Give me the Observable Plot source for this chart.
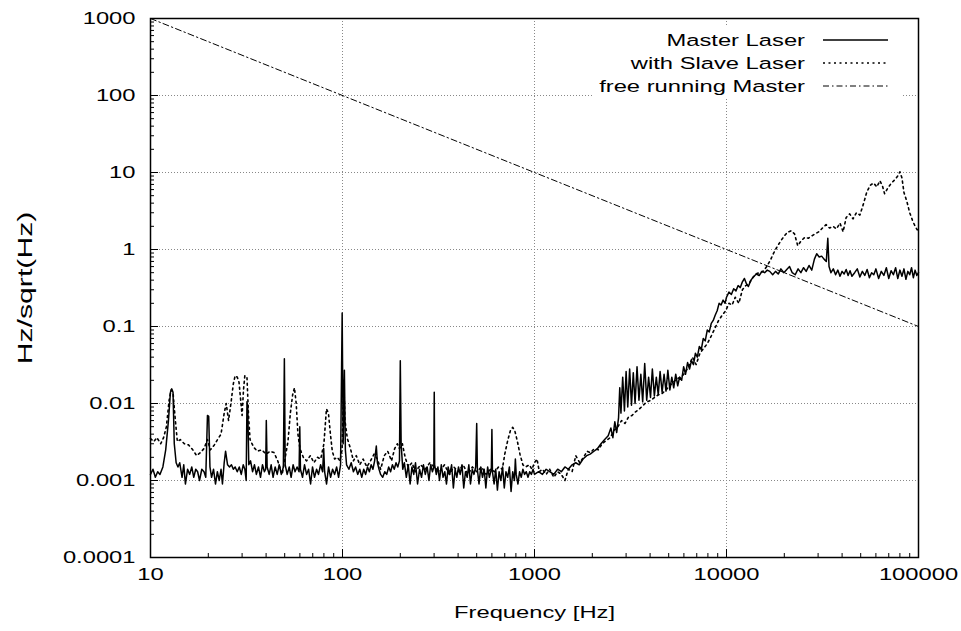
<!DOCTYPE html>
<html><head><meta charset="utf-8">
<script src="https://cdn.jsdelivr.net/npm/d3@7"></script>
<script src="https://cdn.jsdelivr.net/npm/@observablehq/plot@0.6"></script>
<style>html,body{margin:0;padding:0;background:#fff;}</style>
</head><body><div id="chart"></div>
<script>
// ---- data: [frequency Hz, Hz/sqrt(Hz)] ----
const masterLaser = [
[10,0.0012],[10.3,0.0014],[10.6,0.0011],[10.9,0.0013],[11.2,0.0012],[11.6,0.0015],[12.0,0.0025],[12.4,0.006],[12.7,0.014],[12.9,0.0155],
[13.1,0.014],[13.3,0.003],[13.6,0.0017],[13.9,0.0015],[14.2,0.0017],[14.6,0.0011],[14.9,0.0016],[15.2,0.0009],[15.6,0.0014],[16.0,0.0012],
[16.4,0.0015],[16.8,0.0011],[17.2,0.0014],[17.6,0.0013],[18.0,0.001],[18.5,0.0014],[19.0,0.0013],[19.4,0.0011],[19.8,0.007],[20.1,0.0068],
[20.4,0.0015],[20.8,0.0011],[21.3,0.0014],[21.8,0.0009],[22.3,0.0013],[22.8,0.001],[23.3,0.0014],[23.7,0.0009],[24.2,0.0017],[24.6,0.0024],
[25.2,0.0016],[25.8,0.0015],[26.4,0.0016],[27.0,0.0014],[27.6,0.0015],[28.3,0.0013],[29.0,0.0015],[29.7,0.0012],[30.4,0.0016],[31.0,0.0014],
[31.5,0.001],[31.8,0.0105],[32.1,0.009],[32.5,0.0016],[33.2,0.0018],[34.0,0.0013],[34.8,0.0016],[35.6,0.0012],[36.5,0.0015],[37.4,0.0011],
[38.3,0.0016],[39.2,0.0013],[39.8,0.0014],[40.1,0.006],[40.5,0.0015],[41.5,0.0012],[42.5,0.0016],[43.5,0.0011],[44.6,0.0015],[45.7,0.0012],
[46.8,0.0016],[48.0,0.0012],[49.2,0.0015],[49.8,0.038],[50.3,0.0016],[51.5,0.0012],[52.8,0.0015],[54.0,0.0011],[55.3,0.0016],[56.6,0.0013],
[58.0,0.0015],[59.4,0.0013],[59.9,0.005],[60.4,0.0014],[61.9,0.0011],[63.4,0.0016],[65.0,0.0012],[66.6,0.0014],[68.2,0.0009],[69.8,0.0015],
[71.5,0.0011],[73.3,0.0014],[75.0,0.0012],[76.9,0.0016],[78.8,0.0013],[79.8,0.0026],[80.7,0.0013],[82.6,0.0009],[84.6,0.0015],[86.7,0.0011],
[88.8,0.0014],[91.0,0.0012],[93.2,0.0015],[95.4,0.0011],[97.7,0.0016],[99.6,0.15],[100.8,0.003],[102.3,0.027],[103.5,0.0025],
[105,0.0016],[108,0.0014],[111,0.0017],[114,0.0013],[117,0.0015],[120,0.0012],[123,0.0014],[126,0.0011],[129,0.0014],[132,0.0012],
[135,0.0015],[138,0.0013],[141,0.0016],[144,0.0014],[147,0.0018],[150,0.0028],[152,0.0017],[155,0.0014],[158,0.0012],[162,0.0011],
[166,0.0013],[170,0.0012],[174,0.0015],[178,0.0013],[182,0.0016],[186,0.0014],[190,0.0017],[194,0.0015],[198,0.0018],[200,0.036],
[202,0.003],[206,0.0014],[210,0.0017],[215,0.0011],[220,0.0016],[225,0.0009],[230,0.0015],[235,0.0012],[240,0.0017],[246,0.0009],
[252,0.0014],[258,0.0011],[264,0.0016],[270,0.0012],[276,0.0015],[282,0.001],[288,0.0016],[294,0.0013],[299,0.0015],[300.5,0.014],
[302,0.0016],[308,0.0012],[314,0.0015],[320,0.001],[327,0.0016],[334,0.0011],[341,0.0013],[348,0.0009],[355,0.0015],[362,0.0012],
[370,0.0016],[378,0.0008],[386,0.0014],[394,0.0011],[402,0.0015],[410,0.0012],[419,0.0016],[428,0.0008],[437,0.0013],[446,0.0011],
[455,0.0016],[464,0.0009],[474,0.0014],[484,0.0012],[494,0.0015],[500,0.0055],[504,0.0014],[514,0.0009],[525,0.0015],[536,0.0011],
[547,0.0014],[558,0.0008],[570,0.0015],[582,0.0011],[596,0.0014],[600,0.0046],[604,0.0013],[616,0.0009],[628,0.0014],[641,0.00075],
[654,0.0013],[668,0.001],[682,0.0015],[696,0.0008],[710,0.0013],[725,0.0011],[740,0.0015],[755,0.00072],[770,0.0013],[786,0.001],
[795,0.0019],[803,0.0012],[820,0.0009],[836,0.0013],[853,0.0011],[870,0.0014],[888,0.0012],[906,0.0013],[925,0.0011],[944,0.0013],
[963,0.0012],[983,0.0014],[1000,0.0012],
[1050,0.0013],[1100,0.0012],[1150,0.0014],[1200,0.0013],[1260,0.0012],[1320,0.0014],[1380,0.0013],[1440,0.0015],[1500,0.0014],[1570,0.0016],
[1640,0.0017],[1710,0.0016],[1790,0.0019],[1870,0.0021],[1950,0.0022],[2040,0.0024],[2130,0.0026],[2220,0.003],[2320,0.0034],[2420,0.0038],
[2500,0.0048],[2560,0.0036],[2620,0.0058],[2680,0.0042],[2740,0.0065],[2780,0.016],[2820,0.0075],[2880,0.022],[2940,0.008],[3000,0.026],
[3060,0.009],[3130,0.028],[3200,0.0095],[3270,0.025],[3340,0.01],[3420,0.03],[3500,0.011],[3580,0.024],[3660,0.0105],[3750,0.033],
[3840,0.011],[3930,0.022],[4020,0.012],[4110,0.028],[4210,0.0125],[4310,0.022],[4410,0.013],[4510,0.026],[4620,0.014],[4730,0.024],
[4840,0.0145],[4950,0.027],[5070,0.015],[5190,0.022],[5310,0.016],[5440,0.024],[5570,0.017],[5700,0.022],[5840,0.02],[5980,0.03],
[6120,0.024],[6270,0.034],[6420,0.028],[6570,0.036],[6730,0.032],[6890,0.045],[7050,0.04],[7220,0.055],[7390,0.05],[7570,0.07],
[7750,0.065],[7940,0.09],[8130,0.085],[8330,0.11],[8530,0.12],[8730,0.14],[8940,0.16],[9150,0.2],[9370,0.19],[9600,0.22],
[9830,0.2],[10000,0.24],
[10300,0.28],[10600,0.26],[10900,0.31],[11200,0.29],[11500,0.34],[11800,0.32],[12100,0.38],[12400,0.42],[12700,0.36],[13000,0.33],
[13400,0.4],[13800,0.44],[14300,0.48],[14800,0.46],[15300,0.52],[15800,0.5],[16300,0.54],[16800,0.52],[17400,0.47],[18000,0.52],
[18600,0.48],[19200,0.56],[19900,0.5],[20600,0.55],[21300,0.6],[22000,0.5],[22800,0.47],[23600,0.56],[24400,0.5],[25200,0.58],
[26000,0.52],[26900,0.62],[27800,0.54],[28700,0.75],[29500,0.88],[30400,0.8],[31300,0.82],[32200,0.75],[33100,0.7],[33700,1.4],
[34200,0.6],[35000,0.5],[36000,0.56],[37000,0.47],[38000,0.54],[39000,0.45],[40000,0.52],[41000,0.48],[42000,0.55],[43000,0.46],
[44000,0.53],[45000,0.45],[46500,0.5],[48000,0.56],[49500,0.44],[51000,0.52],[52500,0.46],[54000,0.55],[55500,0.43],[57000,0.5],
[58500,0.47],[60000,0.56],[62000,0.42],[64000,0.52],[66000,0.46],[68000,0.58],[70000,0.42],[72000,0.53],[74000,0.47],[76000,0.58],
[78000,0.42],[80000,0.54],[82000,0.45],[84000,0.56],[86000,0.41],[88000,0.52],[90000,0.47],[92000,0.58],[94000,0.43],[96000,0.54],
[98000,0.46],[100000,0.5]
];
const slaveLaser = [
[10,0.0035],[10.4,0.0032],[10.8,0.0036],[11.3,0.003],[11.7,0.0036],[12.1,0.005],[12.5,0.011],[12.8,0.015],[13.1,0.014],[13.4,0.007],
[13.8,0.0032],[14.3,0.0034],[15.0,0.003],[15.8,0.0029],[16.6,0.0025],[17.4,0.0021],[18.2,0.0023],[19.0,0.0026],[19.8,0.0034],[20.5,0.0025],
[21.5,0.0029],[22.5,0.0035],[23.3,0.004],[24.2,0.0075],[24.8,0.01],[25.5,0.006],[26.3,0.0105],[27.0,0.018],[27.6,0.023],[28.3,0.022],
[28.9,0.019],[29.4,0.012],[30.0,0.007],[30.5,0.015],[31.0,0.023],[31.8,0.022],[32.4,0.007],[33.0,0.0034],[34.5,0.0027],[36.0,0.0024],
[38.0,0.0025],[40.0,0.0022],[42.0,0.0024],[44.0,0.0023],[46.0,0.0018],[48.5,0.0012],[50.5,0.0021],[52.0,0.0032],[53.5,0.0075],[55.0,0.013],
[56.2,0.016],[57.4,0.01],[58.6,0.004],[60.0,0.0026],[62.5,0.002],[65.0,0.0018],[68.0,0.0021],[71.0,0.0017],[74.0,0.002],[77.0,0.0019],
[80.0,0.003],[82.5,0.0085],[84.5,0.0075],[86.5,0.004],[88.5,0.0024],[91.0,0.0019],[94.0,0.002],[97.0,0.0018],[99.5,0.0025],[101.5,0.02],
[103,0.006],[106,0.0035],[110,0.0026],[114,0.0018],[118,0.0021],[123,0.0016],[128,0.0019],[134,0.0015],[140,0.0018],[146,0.0022],
[152,0.0019],[158,0.0014],[165,0.0021],[172,0.0024],[180,0.0018],[187,0.0026],[193,0.003],[198,0.0026],[205,0.003],[212,0.002],
[220,0.0015],[230,0.0017],[240,0.0013],[255,0.0016],[270,0.0014],[285,0.0017],[300,0.0015],[320,0.0013],[340,0.0016],[360,0.0012],
[380,0.0015],[400,0.0013],[425,0.0016],[450,0.0012],[475,0.0015],[500,0.0013],[530,0.0015],[560,0.0012],[590,0.0014],[620,0.0013],
[650,0.0015],[680,0.0014],[700,0.0022],[725,0.0033],[750,0.0045],[770,0.0049],[790,0.0044],[815,0.0032],[840,0.0022],[870,0.0016],
[900,0.0015],[940,0.0016],[970,0.0014],[1000,0.0017],[1030,0.0019],[1060,0.0013],[1100,0.0014],[1150,0.0012],[1200,0.0014],[1260,0.0011],
[1320,0.0013],[1380,0.0012],[1440,0.001],[1500,0.0014],[1570,0.0013],[1640,0.0021],[1720,0.0017],[1800,0.002],[1880,0.0024],[1960,0.0023],
[2050,0.0026],[2150,0.0025],[2250,0.003],[2360,0.0033],[2480,0.0036],[2600,0.0045],[2720,0.005],[2840,0.006],[2960,0.0055],[3080,0.0066],
[3220,0.007],[3360,0.0078],[3520,0.0085],[3680,0.0095],[3850,0.0105],[4030,0.011],[4220,0.012],[4420,0.013],[4620,0.0135],[4840,0.015],
[5060,0.017],[5300,0.019],[5540,0.021],[5800,0.022],[6070,0.025],[6350,0.03],[6650,0.04],[6950,0.032],[7270,0.045],[7600,0.052],
[7950,0.06],[8320,0.075],[8700,0.095],[9100,0.12],[9500,0.14],[9900,0.16],[10300,0.2],[10700,0.19],[11100,0.24],[11600,0.2],
[12100,0.3],[12600,0.34],[13100,0.36],[13600,0.42],[14200,0.48],[14800,0.5],[15500,0.52],[16200,0.6],[16900,0.72],[17600,0.9],
[18400,1.1],[19200,1.3],[20000,1.5],[20800,1.68],[21700,1.75],[22600,1.6],[23500,1.12],[24500,1.3],[25600,1.44],[26700,1.4],
[27800,1.5],[29000,1.6],[30300,1.7],[31600,1.9],[33000,2.1],[34400,1.9],[35900,2.0],[37400,1.85],[39000,2.2],[40500,1.7],
[42000,2.6],[43800,2.9],[45600,2.5],[47500,3.0],[49500,2.8],[51500,3.8],[53700,5.5],[56000,6.8],[58300,7.3],[60700,6.5],
[63000,7.8],[65000,6.6],[66600,5.3],[69000,6.2],[72000,7.2],[75000,8.0],[78000,9.0],[80000,10.2],[82000,8.5],[84000,5.5],
[87000,4.2],[90000,3.0],[93000,2.4],[96000,2.0],[98500,1.8],[100000,1.9]
];
const freeRunning = [[10,1000],[100000,0.1]];

const xTicks = [10,100,1000,10000,100000];
const xTickLabels = ["10","100","1000","10000","100000"];
const yTicks = [0.0001,0.001,0.01,0.1,1,10,100,1000];
const yTickLabels = ["0.0001","0.001","0.01","0.1","1","10","100","1000"];
const seriesNames = ["Master Laser","with Slave Laser","free running Master"];
const xTitle = "Frequency [Hz]";
const yTitle = "Hz/sqrt(Hz)";

// ---- layout ----
const W = 961, H = 631, mL = 150, mR = 43, mT = 18, mB = 74;
const plotW = W - mL - mR, plotH = H - mT - mB;
const minorOf = t => { const out = []; for (let i = 0; i < t.length - 1; i++) for (let k = 2; k <= 9; k++) out.push(+(t[i] * k).toPrecision(6)); return out; };
const xMinor = minorOf(xTicks), yMinor = minorOf(yTicks);
const FONT = "'Liberation Sans', Arial, Helvetica, sans-serif";
const STRETCH = 1.44;
const dashSlave = "2,3.5", dashFree = "6,3,1.5,3";
const gridStyle = {stroke: "#888", strokeOpacity: 1, strokeWidth: 1, strokeDasharray: "1,2"};

const chart = Plot.plot({
  width: W, height: H,
  marginLeft: mL, marginRight: mR, marginTop: mT, marginBottom: mB,
  style: {fontFamily: FONT, fontSize: "16.5px", color: "black", background: "white"},
  x: {type: "log", domain: [10, 100000]},
  y: {type: "log", domain: [0.0001, 1000]},
  marks: [
    Plot.gridX(xTicks, gridStyle),
    Plot.gridY(yTicks, gridStyle),
    Plot.line(freeRunning, {x: d => d[0], y: d => d[1], stroke: "black", strokeWidth: 1, strokeDasharray: dashFree}),
    Plot.line(slaveLaser, {x: d => d[0], y: d => d[1], stroke: "black", strokeWidth: 1.6, strokeDasharray: dashSlave}),
    Plot.line(masterLaser, {x: d => d[0], y: d => d[1], stroke: "black", strokeWidth: 1.5}),
    Plot.tickX(xMinor, {x: d => d, insetTop: plotH - 4, stroke: "black"}),
    Plot.tickX(xTicks, {x: d => d, insetTop: plotH - 8, stroke: "black"}),
    Plot.tickY(yMinor, {y: d => d, insetRight: plotW - 4, stroke: "black"}),
    Plot.tickY(yTicks, {y: d => d, insetRight: plotW - 8, stroke: "black"}),
    Plot.frame({stroke: "black", strokeWidth: 1.5}),
    Plot.axisX(xTicks, {tickSize: 0, tickPadding: 11, label: null, tickFormat: d => xTickLabels[xTicks.indexOf(d)]}),
    Plot.axisY(yTicks, {tickSize: 0, tickPadding: 15, label: null, tickFormat: d => yTickLabels[yTicks.indexOf(d)]}),
    Plot.text([xTitle], {text: d => d, frameAnchor: "bottom", dy: 55, lineAnchor: "middle", textAnchor: "middle", fontSize: 16.5}),
    Plot.text([yTitle], {text: d => d, frameAnchor: "left", dx: -125, rotate: -90, lineAnchor: "middle", textAnchor: "middle", fontSize: 21})
  ]
});

// widen the glyphs horizontally (the reference text is stretched)
d3.select(chart).selectAll("text").each(function () {
  const t = this.getAttribute("transform");
  if (t) this.setAttribute("transform", t + ` scale(${STRETCH},1)`);
  else {
    const x = +(this.getAttribute("x") || 0), y = +(this.getAttribute("y") || 0);
    this.setAttribute("x", 0); this.setAttribute("y", 0);
    this.setAttribute("transform", `translate(${x},${y}) scale(${STRETCH},1)`);
  }
});

// opaque key, top right inside the frame
const svg = d3.select(chart);
const key = svg.append("g").attr("font-family", FONT).attr("font-size", "16.5px");
key.append("rect").attr("x", 592).attr("y", 27).attr("width", 310).attr("height", 70).attr("fill", "white");
const dashes = [null, dashSlave, dashFree];
const widths = [1.5, 1.6, 1];
seriesNames.forEach((name, i) => {
  const yy = 40 + i * 23;
  key.append("text").attr("transform", `translate(805,${yy}) scale(${STRETCH},1)`)
    .attr("text-anchor", "end").attr("dy", "0.36em").attr("fill", "black").text(name);
  key.append("line").attr("x1", 823).attr("x2", 888).attr("y1", yy).attr("y2", yy)
    .attr("stroke", "black").attr("stroke-width", widths[i]).attr("stroke-dasharray", dashes[i]);
});

document.getElementById("chart").appendChild(chart);
</script>
</body></html>
